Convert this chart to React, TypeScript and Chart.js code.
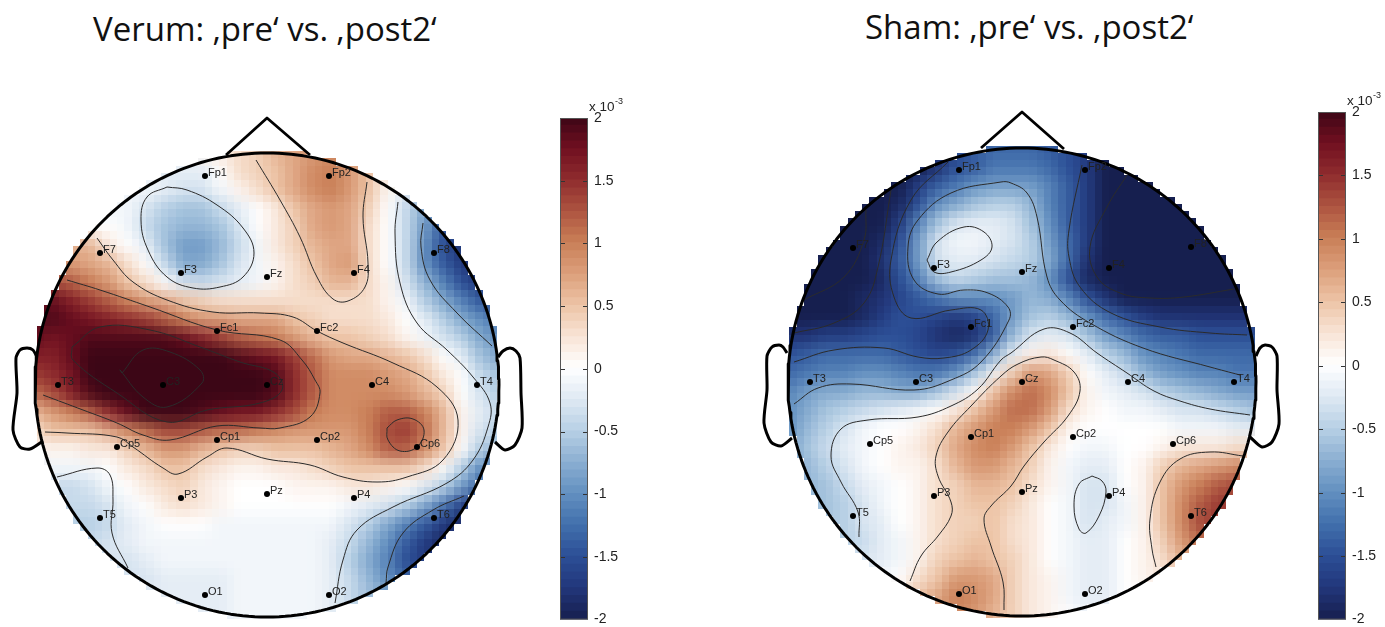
import React, { useEffect, useRef } from "react";
import { Chart, registerables } from "chart.js";

Chart.register(...registerables);

type P = [number, number];

const verumTitle = "Verum: ‚pre‘ vs. ‚post2‘";
const shamTitle = "Sham: ‚pre‘ vs. ‚post2‘";
const colorTicks = [-2, -1.5, -1, -0.5, 0, 0.5, 1, 1.5, 2];
const colorStops: [number, string][] = [
  [-2, "#161f4f"], [-1.75, "#22377c"], [-1.5, "#2c4f96"], [-1.25, "#4270ad"], [-1, "#6390c0"],
  [-0.75, "#8bafd2"], [-0.5, "#b7d0e5"], [-0.25, "#dfe9f3"], [0, "#ffffff"], [0.25, "#f8e4d6"],
  [0.5, "#edc4a6"], [0.75, "#dc9f7b"], [1, "#c97f57"], [1.25, "#ad5440"], [1.5, "#8f2c2e"],
  [1.75, "#700f20"], [2, "#3c0616"],
];

const electrodeNames = ["Fp1", "Fp2", "F7", "F3", "Fz", "F4", "F8", "Fc1", "Fc2", "T3", "C3", "Cz", "C4", "T4", "Cp5", "Cp1", "Cp2", "Cp6", "P3", "Pz", "P4", "T5", "T6", "O1", "O2"];
const verumElectrodes: P[] = [[-62, 209], [62, 209], [-167, 132], [-86, 112], [0, 108], [87, 112], [167, 132], [-50, 54], [50, 54], [-209, 0], [-104, 0], [0, 0], [105, 0], [210, 0], [-150, -62], [-50, -55], [50, -55], [150, -62], [-86, -113], [0, -109], [87, -113], [-167, -133], [167, -133], [-62, -210], [62, -210]];
const shamElectrodes: P[] = [[-63, 212], [63, 212], [-169, 134], [-88, 114], [0, 110], [87, 114], [169, 135], [-51, 55], [51, 55], [-212, 0], [-106, 0], [0, 0], [106, 0], [212, 0], [-152, -62], [-51, -55], [51, -55], [151, -62], [-88, -114], [0, -110], [87, -114], [-169, -134], [169, -134], [-63, -212], [63, -212]];

const verumNose: P[] = [[-41, 230], [0, 267], [43, 230]];
const shamNose: P[] = [[-41, 234], [0, 270], [42, 233]];
const verumEarL: P[] = [[-230, 28], [-234, 35], [-240, 37], [-247, 35], [-251, 27], [-250, -8], [-254, -45], [-247, -62], [-237, -64], [-224, -56]];
const verumEarR: P[] = [[231, 28], [236, 34], [243, 37], [249, 34], [253, 27], [254, -8], [255, -43], [248, -60], [238, -65], [228, -57]];
const shamEarL: P[] = [[-235, 29], [-239, 35], [-243, 37], [-250, 35], [-255, 26], [-255, -8], [-258, -41], [-251, -60], [-241, -64], [-230, -56]];
const shamEarR: P[] = [[234, 26], [238, 34], [243, 37], [250, 35], [255, 26], [255, -8], [257, -42], [250, -60], [240, -65], [228, -55]];

const verumContours: P[][] = [
  [[-100, 198], [-120, 188], [-126, 165], [-119, 135], [-100, 108], [-74, 97], [-47, 98], [-24, 108], [-13, 132], [-24, 157], [-50, 180], [-80, 195], [-100, 198]],
  [[-170, 147], [-154, 125], [-134, 103], [-100, 85], [-54, 73], [-7, 72], [26, 68], [50, 54], [76, 42], [126, 22], [170, -2], [191, -35], [176, -75], [140, -92], [110, -97], [76, -92], [43, -80], [0, -74], [-40, -63], [-60, -72], [-89, -89], [-104, -83], [-134, -62], [-150, -52], [-200, -48], [-222, -47]],
  [[-200, 105], [-167, 95], [-117, 78], [-50, 55], [13, 45], [35, 25], [48, 5], [53, -8], [43, -32], [13, -43], [-7, -43], [-50, -41], [-97, -55], [-124, -50], [-150, -38], [-184, -25], [-224, -10]],
  [[-195, 38], [-167, 58], [-117, 55], [-67, 38], [-27, 23], [8, 12], [15, -5], [-7, -18], [-60, -25], [-100, -37], [-150, -8], [-194, 25], [-195, 38]],
  [[-145, 12], [-124, 35], [-97, 33], [-67, 15], [-65, 2], [-100, -22], [-124, -12], [-147, 15], [-145, 12]],
  [[120, -43], [130, -35], [146, -34], [157, -45], [150, -62], [133, -66], [121, -55], [120, -43]],
  [[-11, 225], [13, 185], [33, 148], [50, 108], [66, 86], [81, 84], [98, 98], [101, 122], [96, 168], [100, 203]],
  [[131, 183], [128, 152], [133, 102], [150, 62], [180, 35], [206, 8], [223, -18], [221, -42], [206, -75], [180, -98], [126, -122], [90, -145], [76, -175], [68, -218]],
  [[156, 162], [154, 138], [163, 105], [190, 72], [225, 39]],
  [[197, -111], [166, -125], [136, -148], [121, -182], [119, -198]],
  [[-210, -92], [-170, -83], [-157, -90], [-154, -115], [-155, -148], [-139, -183]],
];

const shamContours: P[][] = [
  [[-95, 122], [-85, 140], [-58, 155], [-38, 150], [-30, 135], [-41, 122], [-71, 110], [-88, 110], [-95, 122]],
  [[218, 7], [188, 15], [121, 34], [68, 59], [38, 82], [25, 105], [15, 165], [5, 189], [-11, 199], [-21, 200], [-71, 189], [-104, 162], [-114, 135], [-108, 102], [-84, 88], [-58, 92], [-34, 89], [-14, 75], [-13, 62], [-41, 20], [-71, 2], [-108, -8], [-171, -2], [-204, -6], [-228, -22]],
  [[-228, 20], [-188, 32], [-138, 34], [-104, 25], [-78, 24], [-51, 32], [-34, 52], [-41, 72], [-71, 72], [-111, 64], [-128, 85], [-131, 122], [-111, 182], [-74, 220]],
  [[-228, 49], [-188, 59], [-158, 79], [-144, 115], [-131, 192]],
  [[-218, 82], [-178, 105], [-158, 142], [-156, 172]],
  [[60, 217], [47, 152], [47, 125], [58, 95], [89, 69], [138, 55], [188, 49], [225, 47]],
  [[105, 207], [85, 175], [68, 135], [75, 105], [98, 89], [128, 84], [162, 85], [212, 93]],
  [[228, -33], [188, -27], [158, -19], [132, -9], [105, 9], [75, 29], [48, 49], [22, 53], [-11, 29], [-21, 22], [-44, -7], [-71, -24], [-104, -35], [-154, -38], [-181, -47], [-191, -74], [-181, -100], [-164, -130], [-163, -155]],
  [[-18, -228], [-19, -200], [-31, -164], [-38, -137], [-31, -124], [-11, -104], [2, -84], [22, -60], [46, -34], [58, -9], [52, 10], [32, 22], [19, 25], [-4, 18], [-21, 6], [-51, -24], [-74, -50], [-86, -74], [-84, -94], [-71, -120], [-71, -134], [-84, -154], [-101, -174], [-112, -199]],
  [[70, -94], [57, -102], [52, -124], [57, -147], [64, -151], [77, -134], [84, -110], [80, -99], [70, -94]],
  [[221, -74], [188, -70], [158, -77], [138, -100], [128, -137], [130, -167], [134, -185]],
];

// Scalp values, in units of 1e-4, rows from the nose down, columns left to right.
const verumGrid: number[][] = [
  [0, 0, 0, 0, 0, 0, 0, 0, 0, 1, 2, 3, 4, 6, 7, 8, 9, 8, 5, 1, -1, -3, -6, -10, -12, -14],
  [-2, -2, -2, -2, -2, -2, -2, -2, -2, -2, 0, 3, 4, 5, 7, 9, 10, 8, 5, 1, -1, -3, -6, -10, -12, -14],
  [-1, -1, -1, -1, -1, -1, -1, -2, -3, -3, -1, 1, 3, 5, 7, 9, 10, 8, 5, 1, -2, -4, -7, -10, -12, -14],
  [-1, -1, -1, -1, -1, -1, -3, -5, -6, -6, -4, -2, 0, 2, 5, 7, 8, 7, 4, 0, -4, -8, -12, -14, -15, -15],
  [0, 0, 0, 0, 0, -1, -4, -6, -7, -7, -6, -3, 0, 2, 4, 7, 8, 7, 3, 0, -4, -9, -14, -17, -18, -18],
  [6, 6, 6, 6, 2, 0, -2, -6, -9, -9, -7, -4, -1, 2, 4, 6, 7, 7, 3, 0, -4, -10, -15, -18, -19, -19],
  [8, 8, 8, 7, 6, 3, 0, -4, -8, -8, -6, -3, -1, 1, 3, 5, 7, 8, 3, 0, -4, -10, -14, -17, -18, -18],
  [13, 13, 12, 10, 8, 5, 3, 0, -3, -4, -3, -2, -1, 1, 3, 4, 6, 6, 3, 1, -3, -7, -11, -15, -17, -17],
  [18, 18, 16, 14, 12, 10, 8, 7, 5, 4, 3, 3, 3, 3, 3, 3, 3, 3, 3, 1, -1, -5, -8, -11, -14, -15],
  [19, 19, 18, 17, 16, 15, 14, 12, 10, 8, 8, 7, 7, 7, 5, 4, 3, 3, 3, 2, 0, -2, -5, -8, -10, -12],
  [18, 17, 18, 19, 19, 19, 19, 19, 18, 16, 14, 12, 11, 10, 8, 6, 5, 5, 4, 3, 1, -1, -3, -5, -8, -10],
  [16, 16, 18, 20, 20, 20, 20, 20, 20, 20, 20, 19, 18, 17, 14, 11, 8, 7, 7, 6, 5, 3, 0, -2, -6, -8],
  [14, 15, 17, 20, 20, 20, 20, 20, 20, 20, 20, 20, 20, 19, 15, 12, 9, 9, 9, 8, 7, 5, 2, 0, -4, -6],
  [11, 13, 16, 19, 20, 20, 20, 20, 20, 20, 20, 20, 20, 19, 15, 12, 9, 9, 9, 9, 8, 6, 4, 0, -3, -5],
  [6, 8, 10, 12, 15, 18, 20, 20, 20, 19, 18, 17, 17, 15, 13, 10, 9, 9, 10, 12, 12, 10, 6, 1, -2, -4],
  [3, 5, 5, 5, 7, 9, 11, 13, 13, 12, 11, 11, 10, 9, 8, 8, 8, 8, 10, 13, 14, 11, 6, 1, -3, -5],
  [1, 1, 1, 2, 2, 4, 6, 8, 8, 6, 5, 4, 4, 5, 5, 5, 6, 7, 9, 12, 12, 9, 5, 0, -5, -7],
  [-2, -1, -1, -1, 0, 2, 3, 5, 5, 3, 2, 1, 1, 2, 2, 3, 4, 5, 5, 5, 5, 3, 0, -5, -10, -12],
  [-3, -4, -4, -3, -1, 0, 2, 3, 4, 2, 1, 0, 0, 0, 1, 1, 1, 2, 2, 1, 0, -2, -5, -9, -13, -15],
  [-4, -4, -4, -4, -3, -1, 0, 2, 3, 2, 1, 0, 0, 0, 0, 0, 0, -1, -2, -3, -5, -8, -12, -16, -18, -18],
  [-5, -5, -5, -5, -4, -2, -1, 0, 0, 0, -1, -1, -1, -1, -1, -1, -1, -3, -5, -8, -11, -14, -17, -19, -19, -19],
  [-5, -5, -5, -4, -3, -2, -1, -1, -1, -1, -1, -1, -1, -1, -1, -1, -2, -4, -7, -10, -14, -17, -19, -19, -19, -19],
  [-4, -4, -4, -4, -3, -3, -2, -1, -1, -1, -1, -1, -1, -1, -1, -1, -2, -5, -8, -11, -15, -17, -18, -18, -18, -18],
  [-3, -3, -3, -3, -3, -3, -3, -2, -2, -2, -2, -1, -1, -1, -1, -1, -2, -4, -7, -10, -13, -14, -14, -14, -14, -14],
  [-2, -2, -2, -2, -2, -2, -2, -2, -2, -2, -2, -1, -1, -1, -1, -1, -2, -4, -6, -8, -8, -8, -8, -8, -8, -8],
  [-2, -2, -2, -2, -2, -2, -2, -2, -2, -2, -2, -1, -1, -1, -1, -1, -2, -3, -4, -5, -5, -5, -5, -5, -5, -5],
];

const shamGrid: number[][] = [
  [-20, -20, -20, -20, -20, -20, -20, -20, -17, -15, -14, -13, -13, -13, -14, -15, -17, -20, -20, -20, -20, -20, -20, -20, -20, -20],
  [-20, -20, -20, -20, -20, -20, -20, -20, -18, -15, -14, -12, -12, -12, -13, -15, -17, -20, -20, -20, -20, -20, -20, -20, -20, -20],
  [-20, -20, -20, -20, -20, -20, -20, -17, -14, -12, -10, -9, -9, -9, -11, -14, -17, -20, -20, -20, -20, -20, -20, -20, -20, -20],
  [-20, -20, -20, -20, -20, -20, -19, -15, -10, -8, -6, -5, -5, -7, -11, -14, -17, -20, -20, -20, -20, -20, -20, -20, -20, -20],
  [-20, -20, -20, -20, -20, -20, -17, -11, -6, -3, -2, -2, -3, -6, -10, -14, -17, -20, -20, -20, -20, -20, -20, -20, -20, -20],
  [-20, -20, -20, -20, -20, -19, -15, -9, -3, -1, -1, -2, -3, -5, -9, -13, -17, -20, -20, -20, -20, -20, -20, -20, -20, -20],
  [-20, -20, -20, -20, -20, -18, -14, -9, -3, -2, -2, -3, -4, -5, -8, -13, -18, -20, -20, -20, -20, -20, -20, -20, -20, -20],
  [-20, -20, -20, -20, -20, -19, -15, -11, -6, -4, -5, -6, -6, -7, -10, -15, -19, -20, -20, -20, -20, -20, -20, -20, -20, -20],
  [-20, -20, -20, -20, -19, -18, -16, -14, -12, -10, -10, -10, -9, -7, -8, -11, -15, -18, -20, -20, -20, -20, -20, -20, -20, -20],
  [-20, -20, -20, -20, -19, -17, -15, -15, -16, -17, -16, -13, -9, -6, -5, -7, -10, -13, -15, -17, -18, -18, -18, -18, -18, -18],
  [-18, -18, -17, -17, -16, -15, -15, -16, -18, -19, -18, -14, -7, -3, -2, -3, -6, -9, -11, -13, -14, -14, -15, -15, -15, -15],
  [-15, -14, -13, -13, -13, -13, -14, -15, -16, -15, -13, -8, -2, 1, 2, 0, -2, -5, -7, -10, -11, -12, -13, -13, -13, -13],
  [-13, -12, -11, -11, -10, -10, -11, -12, -12, -10, -6, -1, 4, 8, 7, 4, 0, -2, -4, -7, -9, -10, -11, -11, -12, -12],
  [-11, -9, -8, -8, -7, -7, -8, -8, -6, -3, 0, 5, 9, 11, 9, 5, 1, -1, -2, -3, -5, -6, -7, -8, -9, -9],
  [-10, -8, -6, -5, -4, -3, -2, -1, 0, 2, 5, 8, 11, 11, 8, 3, 1, 0, -1, -1, -2, -3, -3, -4, -5, -6],
  [-10, -7, -5, -3, -1, 0, 0, 1, 3, 6, 8, 10, 10, 8, 5, 1, 0, 0, 0, 0, 0, -1, -1, -1, -2, -2],
  [-9, -6, -4, -2, -1, 0, 1, 2, 4, 7, 9, 10, 8, 5, 2, 0, -1, -1, 0, 0, 1, 2, 2, 2, 3, 3],
  [-8, -7, -5, -3, -1, 0, 1, 1, 3, 6, 8, 8, 6, 4, 1, -1, -2, -2, 0, 1, 4, 6, 7, 8, 9, 9],
  [-7, -7, -6, -4, -2, -1, 0, 1, 3, 4, 6, 6, 5, 3, 1, -1, -3, -3, 0, 1, 5, 8, 10, 12, 13, 13],
  [-7, -7, -6, -5, -3, -1, 0, 1, 3, 4, 5, 5, 4, 2, 0, -1, -3, -3, -1, 1, 5, 9, 12, 14, 14, 14],
  [-6, -6, -6, -5, -3, -2, 0, 1, 3, 4, 4, 5, 3, 2, 0, -1, -3, -2, -1, 1, 5, 9, 13, 14, 14, 14],
  [-5, -5, -5, -5, -4, -2, -1, 1, 3, 4, 5, 5, 3, 2, 0, -1, -2, -2, 0, 1, 4, 8, 11, 12, 12, 12],
  [-3, -3, -3, -3, -3, -2, -1, 1, 4, 5, 6, 5, 4, 2, 0, -1, -2, -2, 0, 1, 3, 6, 8, 8, 8, 8],
  [-2, -2, -2, -2, -2, -1, 0, 3, 5, 8, 8, 7, 4, 2, 1, -1, -2, -2, 0, 1, 2, 3, 3, 3, 3, 3],
  [0, 0, 0, 0, 0, 1, 3, 5, 7, 10, 9, 7, 4, 2, 1, -1, -2, -2, 0, 0, 0, 0, 0, 0, 0, 0],
  [0, 0, 0, 0, 0, 1, 3, 5, 7, 9, 8, 6, 4, 2, 1, 0, -1, -1, 0, 0, 0, 0, 0, 0, 0, 0],
];

function hex(c: string): number[] {
  return [1, 3, 5].map((i) => parseInt(c.slice(i, i + 2), 16));
}

function colorFor(v: number): string {
  const c = Math.max(-2, Math.min(2, v));
  for (let i = 0; i < colorStops.length - 1; i++) {
    const [a, ca] = colorStops[i];
    const [b, cb] = colorStops[i + 1];
    if (c <= b) {
      const t = (c - a) / (b - a);
      const A = hex(ca);
      const B = hex(cb);
      return `rgb(${A.map((x, k) => Math.round(x + (B[k] - x) * t)).join(",")})`;
    }
  }
  return colorStops[colorStops.length - 1][1];
}

const heatSmoothing = {
  id: "heatSmoothing",
  afterDatasetDraw(chart: any, args: any) {
    if (args.index !== chart.data.datasets.length - 1) return;
    const canvas: HTMLCanvasElement = chart.canvas;
    const ctx: CanvasRenderingContext2D = chart.ctx;
    const opt = chart.options.plugins.heatSmoothing;
    const cell = 7.3;
    const off = document.createElement("canvas");
    off.width = canvas.width;
    off.height = canvas.height;
    const o = off.getContext("2d")!;
    o.filter = "blur(7px)";
    o.drawImage(canvas, 0, 0);
    const low = document.createElement("canvas");
    low.width = Math.round(canvas.width / cell);
    low.height = Math.round(canvas.height / cell);
    const l = low.getContext("2d")!;
    l.drawImage(off, 0, 0, low.width, low.height);
    const cx = chart.scales.x.getPixelForValue(0);
    const cy = chart.scales.y.getPixelForValue(0);
    const r = chart.scales.x.getPixelForValue(opt.radius) - cx;
    const image = l.getImageData(0, 0, low.width, low.height);
    const sx = canvas.width / low.width;
    const sy = canvas.height / low.height;
    for (let j = 0; j < low.height; j++) {
      for (let i = 0; i < low.width; i++) {
        const inside = Math.hypot((i + 0.5) * sx - cx, (j + 0.5) * sy - cy) <= r + 1.5;
        image.data[(j * low.width + i) * 4 + 3] = inside ? 255 : 0;
      }
    }
    l.putImageData(image, 0, 0);
    ctx.save();
    ctx.clearRect(0, 0, canvas.width, canvas.height);
    ctx.imageSmoothingEnabled = false;
    ctx.filter = "blur(0.6px)";
    ctx.drawImage(low, 0, 0, canvas.width, canvas.height);
    ctx.restore();
  },
};

const electrodeLabels = {
  id: "electrodeLabels",
  afterDatasetsDraw(chart: any) {
    const { ctx, scales } = chart;
    const opt = chart.options.plugins.electrodeLabels;
    ctx.save();
    ctx.font = "11px 'Liberation Sans'";
    ctx.fillStyle = "#222";
    ctx.textAlign = "left";
    ctx.textBaseline = "middle";
    opt.points.forEach((p: P, i: number) => {
      ctx.fillText(opt.names[i], scales.x.getPixelForValue(p[0]) + 3, scales.y.getPixelForValue(p[1]) - 3);
    });
    ctx.restore();
  },
};

type HeadProps = {
  grid: number[][];
  contours: P[][];
  electrodes: P[];
  nose: P[];
  earL: P[];
  earR: P[];
  radius: number;
  halfWidth: number;
  top: number;
  bottom: number;
  left: number;
  y: number;
};

function toXY(points: P[]) {
  return points.map(([x, y]) => ({ x, y }));
}

function Head(props: HeadProps) {
  const ref = useRef<HTMLCanvasElement>(null);
  useEffect(() => {
    const { grid, contours, electrodes, nose, earL, earR, radius, halfWidth, top, bottom } = props;
    const step = (radius * 2) / (grid.length - 1);
    const cells: { x: number; y: number }[] = [];
    const colors: string[] = [];
    grid.forEach((row, j) =>
      row.forEach((v, i) => {
        cells.push({ x: -radius + i * step, y: radius - j * step });
        colors.push(colorFor(v / 10));
      })
    );
    const outline: { x: number; y: number }[] = [];
    for (let a = 0; a <= 240; a++) {
      const t = (a / 240) * Math.PI * 2;
      outline.push({ x: radius * Math.cos(t), y: radius * Math.sin(t) });
    }
    const stroke = (data: any[], width: number) => ({
      type: "scatter" as const,
      data,
      showLine: true,
      borderColor: "#000",
      borderWidth: width,
      pointRadius: 0,
      tension: 0,
      fill: false,
      borderJoinStyle: "round" as const,
    });
    const chart = new Chart(ref.current!, {
      type: "scatter",
      data: {
        datasets: [
          {
            data: toXY(electrodes),
            pointRadius: 3,
            pointBackgroundColor: "#000",
            pointBorderWidth: 0,
          },
          stroke(outline, 3),
          stroke(toXY(nose), 2.8),
          { ...stroke(toXY(earL), 3), tension: 0.25 },
          { ...stroke(toXY(earR), 3), tension: 0.25 },
          ...contours.map((c) => ({
            ...stroke(toXY(c), 1),
            borderColor: "#2b2b2b",
            tension: 0.4,
          })),
          {
            data: cells,
            pointStyle: "rect",
            pointRadius: (step + 1) / Math.SQRT2,
            pointBackgroundColor: colors,
            pointBorderWidth: 0,
          },
        ] as any,
      },
      options: {
        animation: false,
        responsive: false,
        events: [],
        layout: { padding: 0, autoPadding: false },
        scales: {
          x: { type: "linear", display: false, min: -halfWidth, max: halfWidth },
          y: { type: "linear", display: false, min: bottom, max: top },
        },
        plugins: {
          legend: { display: false },
          tooltip: { enabled: false },
          heatSmoothing: { radius },
          electrodeLabels: { points: electrodes, names: electrodeNames },
        } as any,
      },
      plugins: [heatSmoothing, electrodeLabels],
    });
    return () => chart.destroy();
  }, []);
  return (
    <canvas
      ref={ref}
      width={props.halfWidth * 2}
      height={props.top - props.bottom}
      style={{ position: "absolute", left: props.left, top: props.y, width: props.halfWidth * 2, height: props.top - props.bottom }}
    />
  );
}

const colorBarDecor = {
  id: "colorBarDecor",
  afterDatasetsDraw(chart: any) {
    const { ctx, chartArea, scales } = chart;
    ctx.save();
    ctx.strokeStyle = "#333";
    ctx.lineWidth = 1;
    colorTicks.forEach((t) => {
      if (Math.abs(t) === 2) return;
      const y = Math.round(scales.y.getPixelForValue(t)) + 0.5;
      ctx.beginPath();
      ctx.moveTo(chartArea.left, y);
      ctx.lineTo(chartArea.left + 5, y);
      ctx.moveTo(chartArea.right - 5, y);
      ctx.lineTo(chartArea.right, y);
      ctx.stroke();
    });
    ctx.strokeStyle = "#555";
    ctx.strokeRect(chartArea.left + 0.5, chartArea.top + 0.5, chartArea.right - chartArea.left - 1, chartArea.bottom - chartArea.top - 1);
    ctx.fillStyle = "#222";
    ctx.textBaseline = "alphabetic";
    ctx.font = "13.5px 'Liberation Sans'";
    ctx.fillText("x 10", chartArea.right + 1, chartArea.top - 7);
    ctx.font = "9px 'Liberation Sans'";
    ctx.fillText("-3", chartArea.right + 27, chartArea.top - 14);
    ctx.restore();
  },
};

function ColorBar({ left, barTop, barBottom }: { left: number; barTop: number; barBottom: number }) {
  const ref = useRef<HTMLCanvasElement>(null);
  const paddingTop = 30;
  useEffect(() => {
    const n = 64;
    const datasets: any[] = [];
    for (let i = 0; i < n; i++) {
      const lo = -2 + (i * 4) / n;
      const hi = -2 + ((i + 1) * 4) / n;
      datasets.push({
        data: [[lo, Math.min(2, hi + 0.006)]],
        backgroundColor: colorFor((lo + hi) / 2),
        borderWidth: 0,
        grouped: false,
        barPercentage: 1,
        categoryPercentage: 1,
      });
    }
    const chart = new Chart(ref.current!, {
      type: "bar",
      data: { labels: ["scale"], datasets },
      options: {
        animation: false,
        responsive: false,
        events: [],
        layout: { padding: { top: paddingTop, bottom: 12, left: 0, right: 0 } },
        scales: {
          x: { display: false, grid: { display: false } },
          y: {
            position: "right",
            min: -2,
            max: 2,
            afterFit: (s: any) => {
              s.width = 62;
            },
            afterBuildTicks: (s: any) => {
              s.ticks = colorTicks.map((value) => ({ value }));
            },
            grid: { display: false, drawTicks: false },
            border: { display: false },
            ticks: {
              padding: 6,
              color: "#222",
              font: { family: "'Liberation Sans'", size: 14 },
              callback: (v: any) => String(v),
              autoSkip: false,
            },
          },
        },
        plugins: { legend: { display: false }, tooltip: { enabled: false } },
      },
      plugins: [colorBarDecor],
    });
    return () => chart.destroy();
  }, []);
  const height = barBottom - barTop + paddingTop + 12;
  return (
    <canvas
      ref={ref}
      width={90}
      height={height}
      style={{ position: "absolute", left, top: barTop - paddingTop, width: 90, height }}
    />
  );
}

const titleStyle: React.CSSProperties = {
  position: "absolute",
  fontFamily: "'Open Sans', Lato, sans-serif",
  fontSize: 33,
  color: "#111",
  whiteSpace: "nowrap",
  lineHeight: "40px",
};

export default function App() {
  return (
    <div style={{ position: "absolute", left: 0, top: 0, width: 1385, height: 627, overflow: "hidden", background: "#fff" }}>
      <div style={{ ...titleStyle, left: 93, top: 9 }}>{verumTitle}</div>
      <div style={{ ...titleStyle, left: 865, top: 7 }}>{shamTitle}</div>
      <Head grid={verumGrid} contours={verumContours} electrodes={verumElectrodes} nose={verumNose} earL={verumEarL} earR={verumEarR} radius={232} halfWidth={267} top={278} bottom={-256} left={0} y={107} />
      <Head grid={shamGrid} contours={shamContours} electrodes={shamElectrodes} nose={shamNose} earL={shamEarL} earR={shamEarR} radius={234} halfWidth={269} top={280} bottom={-258} left={753} y={102} />
      <ColorBar left={560} barTop={118} barBottom={622} />
      <ColorBar left={1318} barTop={112} barBottom={622} />
    </div>
  );
}
